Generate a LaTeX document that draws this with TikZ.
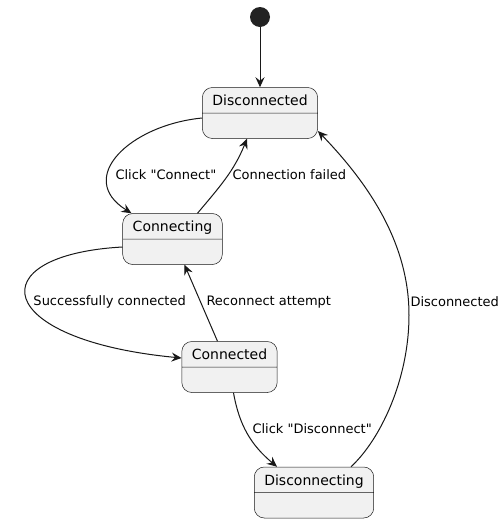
\documentclass[tikz,border=0pt]{standalone}
\usepackage{fontspec}
\setmainfont{DejaVu Sans}[Ligatures=TeXOff]
\usetikzlibrary{arrows.meta,positioning,shapes.multipart}
\definecolor{edgecol}{HTML}{181818}
\definecolor{statefill}{HTML}{F1F1F1}
\definecolor{dotcol}{HTML}{222222}
\tikzset{%
	state/.style   = {draw=edgecol, fill=statefill, line width=0.5pt, rounded corners=10pt,
	                  rectangle split, rectangle split parts=2, inner xsep=10pt, inner ysep=5.5pt,
	                  text height=12.5pt, text depth=1.5pt,
	                  rectangle split empty part height=12.5pt, rectangle split empty part depth=1.5pt,
	                  font=\fontsize{14}{16}\selectfont}, % State box
	initial/.style = {circle, fill=dotcol, minimum size=20pt, inner sep=0pt}, % Start dot
	lbl/.style     = {font=\fontsize{13}{15}\selectfont, inner sep=0pt, anchor=west}, % Edge label
	arrow/.style   = {draw=edgecol, line width=1pt, -{Stealth[length=10pt,width=9pt,inset=3.5pt]}},
}

\begin{document}
\begin{tikzpicture}[x=1pt,y=1pt,node distance=96pt]
		\fill[white] (0,0) rectangle (504,-523);
		\useasboundingbox (0,0) rectangle (504,-523);

		\node [initial] (init) at (260,-17) {};
		\node [state] (disc) [below of=init] {Disconnected};
		\node [state] (conn) [below of=disc,node distance=126pt,xshift=-87.5pt] {Connecting};
		\node [state] (connd) [below of=conn,node distance=128pt,xshift=57pt] {Connected};
		\node [state] (discg) [below of=connd,node distance=125.5pt,xshift=84.5pt] {Disconnecting};

		\draw[arrow] (init) -- (disc);
		\draw[arrow] ([yshift=-5pt]disc.west) .. controls (130,-125) and (75,-178) .. ([xshift=9pt]conn.north west)
			node[lbl] at (115,-175) {Click "Connect"};
		\draw[arrow] ([xshift=25pt]conn.north) to[out=50,in=-112] ([xshift=-13pt]disc.south)
			node[lbl] at (232,-175) {Connection failed};
		\draw[arrow] ([yshift=-8pt]conn.west) .. controls (-22,-255) and (-8,-340) .. ([yshift=9pt]connd.west)
			node[lbl] at (33,-302) {Successfully connected};
		\draw[arrow] ([xshift=-12pt]connd.north) -- ([xshift=12pt]conn.south)
			node[lbl] at (206,-302) {Reconnect attempt};
		\draw[arrow] ([xshift=4pt]connd.south) to[out=-80,in=140] ([xshift=-37pt]discg.north)
			node[lbl] at (252,-429) {Click "Disconnect"};
		\draw[arrow] ([xshift=37pt]discg.north) .. controls (380,-440) and (409,-380) .. (409,-315)
			.. controls (409,-240) and (365,-180) .. ([yshift=-18pt]disc.east)
			node[lbl] at (410,-302) {Disconnected};
\end{tikzpicture}
\end{document}
